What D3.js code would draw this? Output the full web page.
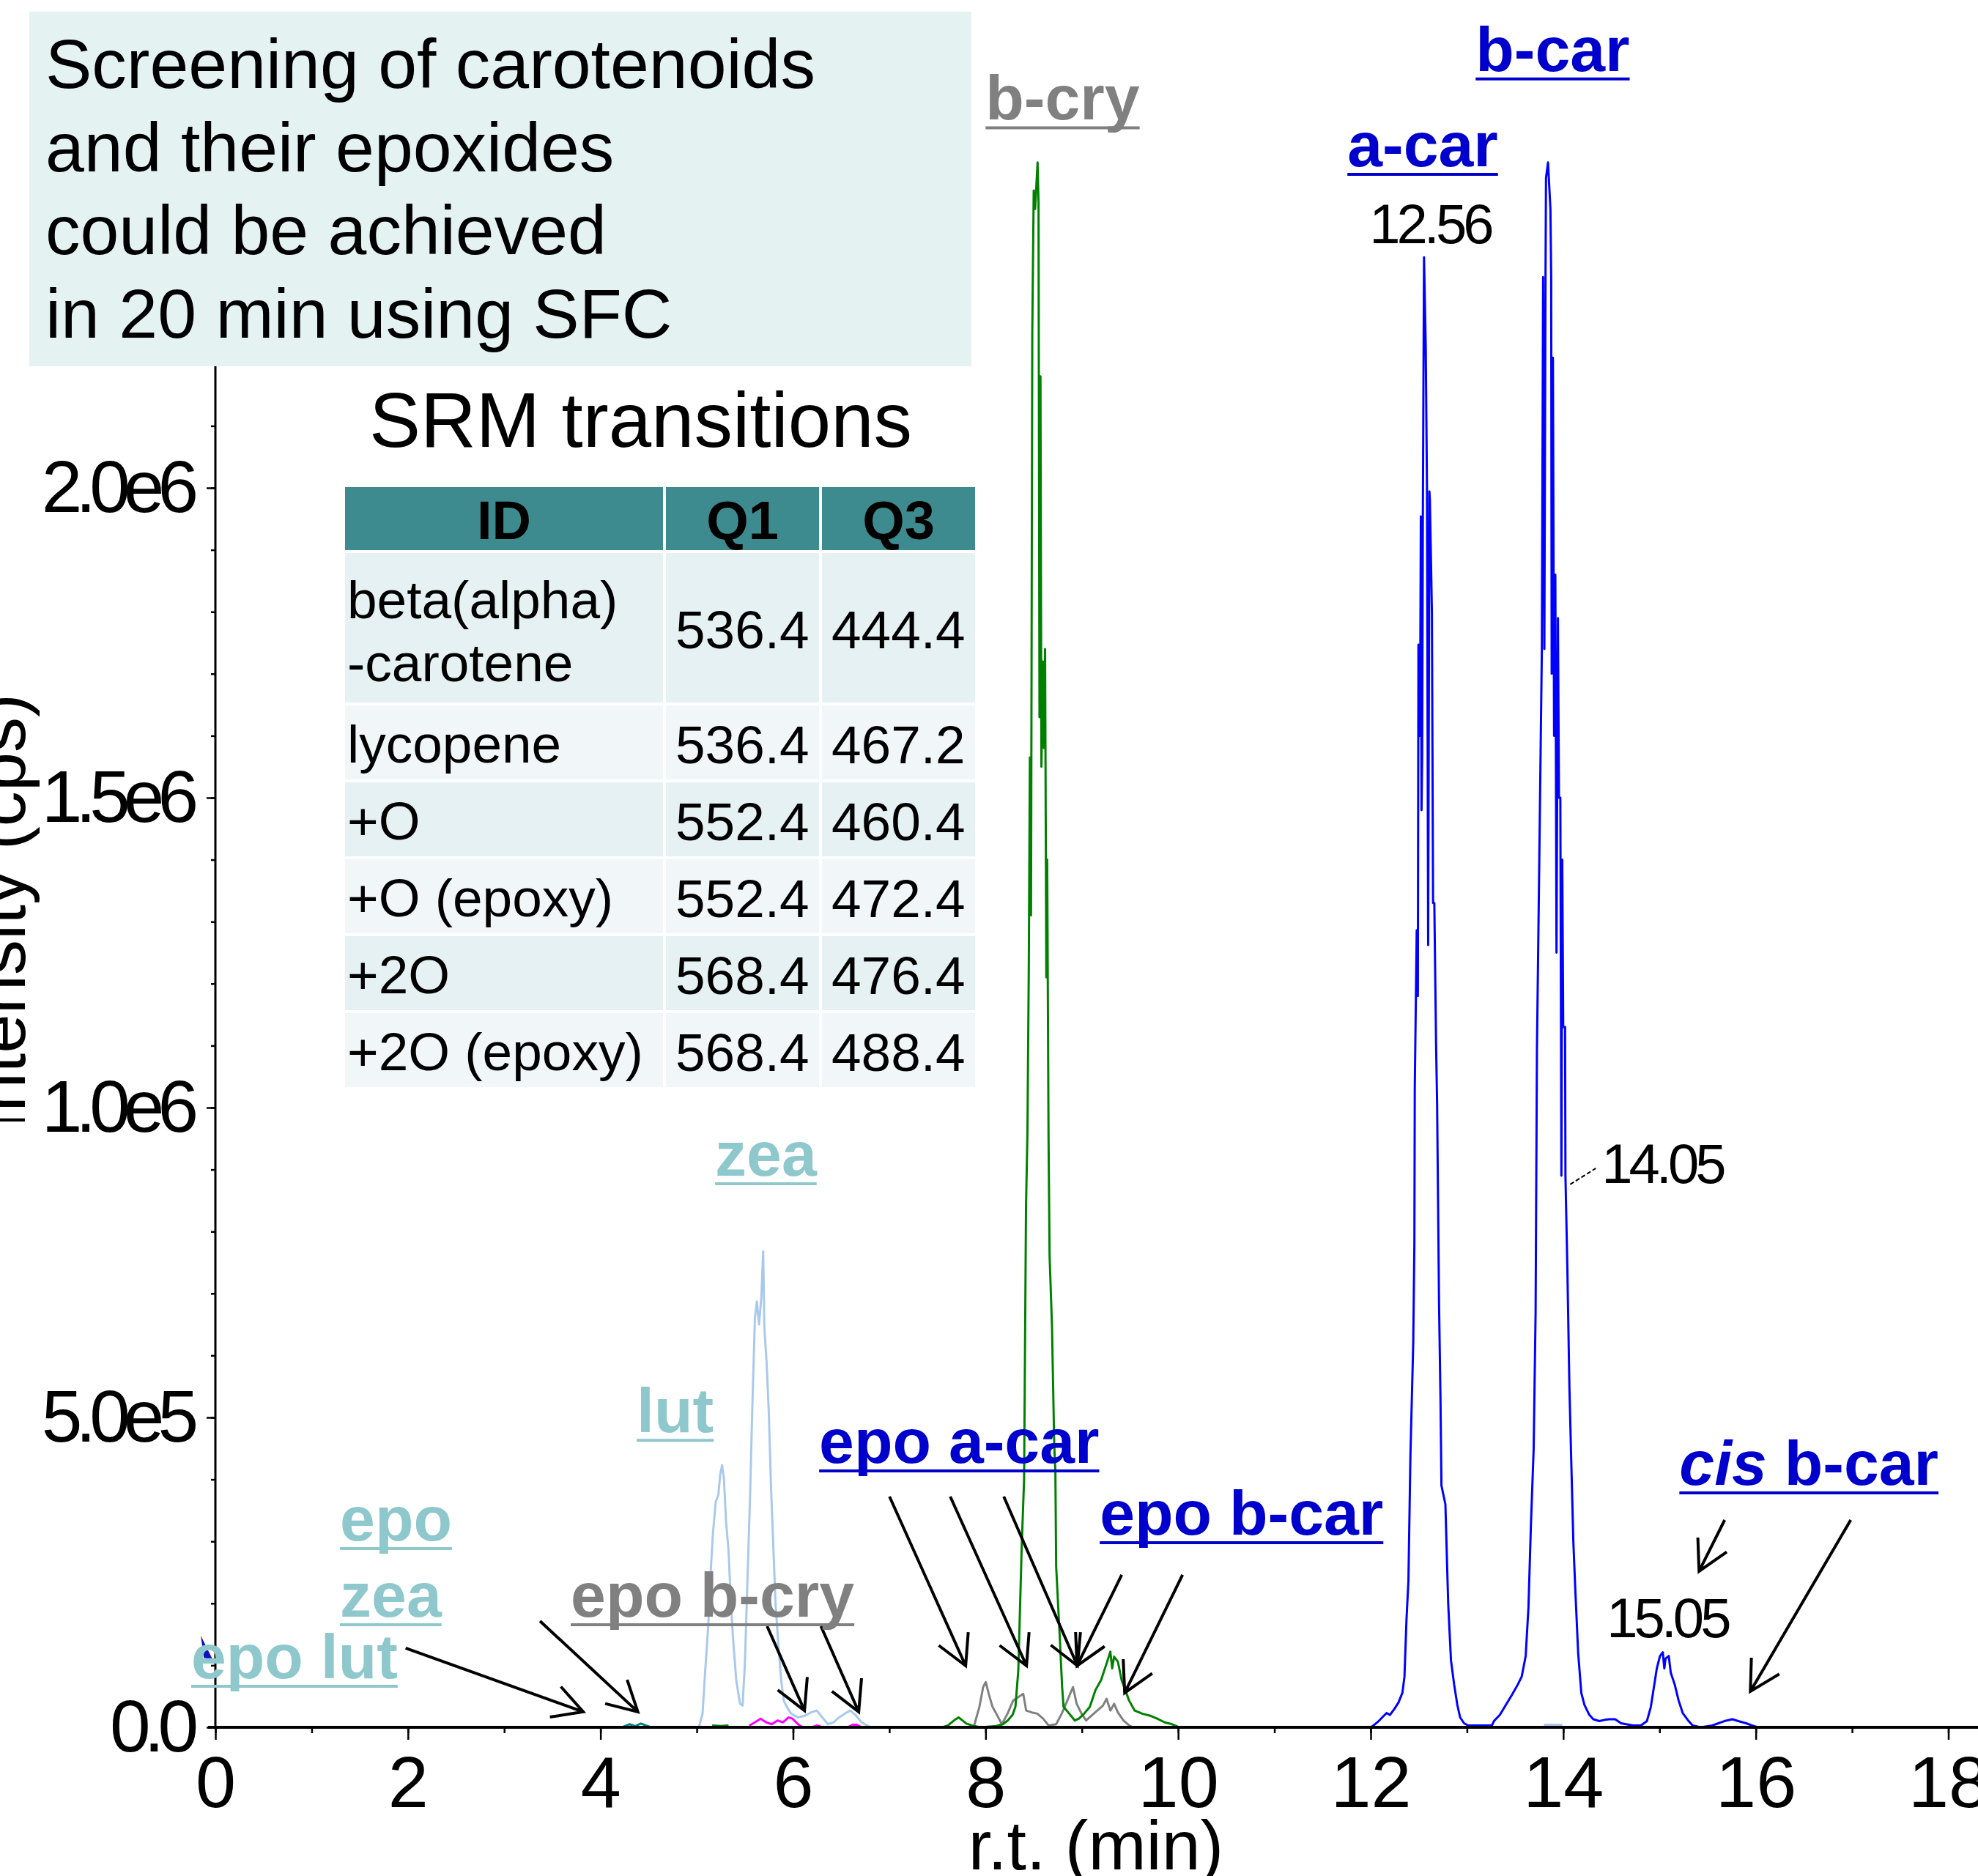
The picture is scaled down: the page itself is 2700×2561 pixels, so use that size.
<!DOCTYPE html>
<html>
<head>
<meta charset="utf-8">
<script src="https://cdn.jsdelivr.net/npm/d3@7"></script>
<style>
  html, body { margin: 0; padding: 0; background: #fff; }
  svg { display: block; font-family: "Liberation Sans", Arial, sans-serif; }
</style>
</head>
<body>
<div id="chart"></div>
<script>
// ---- data: [retention time (min), intensity (cps)] ----
// null intensity = gap in the trace
const tealTrace = [[4.24, 1e3], [4.3, 5e3], [4.36, 2e3], [4.42, 6e3], [4.47, 3e3], [4.51, 1e3]];

const lutTrace = [
  [5.022, 0], [5.06, 2.2e4], [5.088, 9.2e4], [5.119, 1.63e5], [5.146, 2.55e5], [5.169, 3.15e5],
  [5.197, 3.64e5], [5.224, 3.75e5], [5.243, 4.07e5], [5.263, 4.23e5], [5.282, 4.02e5],
  [5.305, 3.3e5], [5.329, 2.88e5], [5.352, 2.1e5], [5.375, 1.47e5], [5.41, 7.6e4],
  [5.449, 3.8e4], [5.476, 3.5e4], [5.5, 1.03e5], [5.527, 2.39e5], [5.554, 3.75e5],
  [5.577, 5.16e5], [5.604, 6.6e5], [5.624, 6.87e5], [5.647, 6.5e5], [5.671, 6.95e5],
  [5.69, 7.68e5], [5.702, 6.45e5], [5.725, 5.9e5], [5.748, 5.1e5], [5.772, 3.85e5],
  [5.795, 2.93e5], [5.818, 2.0e5], [5.849, 1.3e5], [5.877, 7.6e4], [5.904, 4.3e4],
  [5.935, 3.3e4], [5.981, 2.2e4], [6.051, 1.6e4], [6.129, 1.9e4], [6.187, 2.4e4],
  [6.246, 2.7e4], [6.304, 1.6e4], [6.362, 5e3], [6.421, 8e3], [6.479, 1.6e4], [6.537, 2.2e4],
  [6.595, 2.7e4], [6.654, 1.9e4], [6.712, 8e3], [6.77, 3e3], [6.809, 0],
  [6.809, null], [13.8, 4e3], [13.99, 4e3]
];

const magentaTrace = [
  [5.546, 3e3], [5.604, 8e3], [5.663, 1.4e4], [5.721, 8e3], [5.779, 5e3], [5.838, 1.1e4],
  [5.896, 8e3], [5.954, 1.6e4], [5.993, 1.4e4], [6.051, 5e3], [6.09, 1e3],
  [6.09, null], [6.21, 1e3], [6.25, 3e3], [6.29, 1e3],
  [6.29, null], [6.58, 1e3], [6.62, 4e3], [6.66, 4e3], [6.7, 1e3]
];

const grayTrace = [
  [7.878, 1e3], [7.936, 3.3e4], [7.975, 6.5e4], [8.002, 7.3e4], [8.033, 5.4e4], [8.072, 3.3e4],
  [8.111, 2.2e4], [8.169, 5e3], [8.228, 2.2e4], [8.286, 4.3e4], [8.344, 4.9e4], [8.391, 5.4e4],
  [8.422, 2.7e4], [8.48, 2.4e4], [8.538, 2.2e4], [8.597, 1.4e4], [8.655, 3e3], [8.733, 5e3],
  [8.791, 2.2e4], [8.849, 4.3e4], [8.908, 6.5e4], [8.946, 3.8e4], [8.997, 2.2e4], [9.044, 1.1e4],
  [9.102, 1.9e4], [9.16, 2.7e4], [9.219, 3.5e4], [9.257, 4.6e4], [9.296, 2.7e4], [9.335, 3.8e4],
  [9.374, 2.4e4], [9.432, 1.1e4], [9.491, 3e3], [9.53, 0]
];

const greenTrace = [
  [5.16, 3e3], [5.25, 2e3], [5.33, 3e3], [5.33, null],
  [7.55, 0], [7.61, 3e3], [7.68, 1.2e4], [7.72, 1.6e4], [7.76, 1.1e4], [7.8, 6e3], [7.88, 2e3],
  [7.95, 0], [8.11, 2e3], [8.18, 5e3], [8.23, 1.1e4], [8.28, 2e4], [8.31, 3.3e4], [8.34, 9.2e4],
  [8.375, 2.9e5], [8.4, 4.0e5], [8.42, 8.4e5], [8.435, 9.6e5], [8.449, 1.23e6], [8.46, 1.565e6],
  [8.472, 1.31e6], [8.485, 2.25e6], [8.5, 2.48e6], [8.515, 2.45e6], [8.54, 2.525e6],
  [8.55, 2.46e6], [8.56, 1.63e6], [8.57, 2.18e6], [8.58, 1.55e6], [8.595, 1.72e6],
  [8.606, 1.58e6], [8.618, 1.74e6], [8.631, 1.21e6], [8.64, 1.4e6], [8.654, 9.5e5],
  [8.665, 7.6e5], [8.674, 7.2e5], [8.69, 6.46e5], [8.713, 4.56e5], [8.725, 4.13e5],
  [8.733, 2.6e5], [8.772, 1.41e5], [8.795, 6.5e4], [8.81, 3.3e4], [8.869, 2.2e4],
  [8.927, 1.1e4], [8.97, 1.4e4], [9.024, 2.2e4], [9.083, 3.3e4], [9.141, 6e4], [9.199, 7.6e4],
  [9.257, 1.03e5], [9.296, 1.22e5], [9.315, 9.5e4], [9.335, 1.14e5], [9.374, 1.06e5],
  [9.413, 7.6e4], [9.452, 6e4], [9.491, 4.3e4], [9.549, 2.7e4], [9.627, 2.2e4], [9.704, 1.9e4],
  [9.782, 1.4e4], [9.86, 8e3], [9.937, 5e3], [9.996, 1e3], [10.02, 0]
];

const blueTrace = [
  [12.0, 0], [12.02, 2e3], [12.083, 1e4], [12.12, 1.6e4], [12.165, 2.3e4], [12.2, 2e4],
  [12.248, 3e4], [12.289, 4e4], [12.33, 5.6e4], [12.351, 8.2e4], [12.372, 1.74e5],
  [12.392, 2.36e5], [12.413, 4.4e5], [12.442, 6.2e5], [12.454, 7.8e5], [12.458, 1.03e6],
  [12.478, 1.286e6], [12.49, 1.18e6], [12.496, 1.747e6], [12.51, 1.6e6], [12.516, 1.747e6],
  [12.521, 1.954e6], [12.528, 1.48e6], [12.535, 1.57e6], [12.542, 1.954e6], [12.554, 2.372e6],
  [12.572, 2.226e6], [12.585, 1.994e6], [12.597, 1.262e6], [12.61, 1.994e6], [12.615, 1.98e6],
  [12.636, 1.8e6], [12.648, 1.33e6], [12.661, 1.33e6], [12.679, 1.105e6], [12.69, 1.006e6],
  [12.71, 6.86e5], [12.725, 5.3e5], [12.735, 3.9e5], [12.776, 3.6e5], [12.805, 2.0e5],
  [12.834, 1.08e5], [12.867, 6.9e4], [12.9, 3.6e4], [12.929, 1.6e4], [12.97, 6.5e3],
  [13.012, 3e3], [13.26, 3e3], [13.28, 1e4], [13.342, 2e4], [13.404, 3.6e4], [13.466, 5.2e4],
  [13.528, 6.9e4], [13.569, 8.2e4], [13.61, 1.15e5], [13.639, 1.94e5], [13.664, 3.25e5],
  [13.693, 4.5e5], [13.713, 6.7e5], [13.727, 1.095e6], [13.753, 1.42e6], [13.778, 1.74e6],
  [13.791, 2.34e6], [13.804, 1.74e6], [13.816, 2.34e6], [13.821, 2.5e6], [13.842, 2.525e6],
  [13.867, 2.45e6], [13.875, 2.34e6], [13.88, 1.7e6], [13.893, 2.21e6], [13.905, 1.6e6],
  [13.918, 1.86e6], [13.93, 1.25e6], [13.945, 1.79e6], [13.956, 1.5e6], [13.97, 1.5e6],
  [13.981, 8.9e5], [13.99, 1.4e6], [14.0, 1.13e6], [14.019, 1.13e6], [14.023, 8.9e5],
  [14.043, 7.4e5], [14.064, 5.5e5], [14.085, 4.2e5], [14.105, 3.0e5], [14.126, 2.2e5],
  [14.155, 1.2e5], [14.188, 5.5e4], [14.221, 3.6e4], [14.271, 2e4], [14.312, 1.3e4],
  [14.374, 1e4], [14.43, 1.2e4], [14.477, 1.3e4], [14.539, 1.3e4], [14.601, 6.5e3],
  [14.725, 3e3], [14.807, 3e3], [14.869, 1e4], [14.91, 3.3e4], [14.939, 6.2e4], [14.972, 9.5e4],
  [15.005, 1.15e5], [15.034, 1.21e5], [15.05, 9.5e4], [15.063, 1.11e5], [15.096, 1.15e5],
  [15.117, 8.8e4], [15.158, 6.9e4], [15.199, 4.3e4], [15.241, 2.3e4], [15.303, 1e4],
  [15.344, 3e3], [15.427, 0], [15.55, 3e3], [15.612, 6.5e3], [15.674, 1e4], [15.757, 1.3e4],
  [15.818, 1e4], [15.9, 6.5e3], [15.96, 3e3], [16.02, 0]
];

// axes
const xTicks = [0, 2, 4, 6, 8, 10, 12, 14, 16, 18];
const xTickLabels = ["0", "2", "4", "6", "8", "10", "12", "14", "16", "18"];
const yTicks = [0, 5e5, 1e6, 1.5e6, 2e6];
const yTickLabels = ["0.0", "5.0e5", "1.0e6", "1.5e6", "2.0e6"];

// SRM table
const srmHeader = ["ID", "Q1", "Q3"];
const srmIds = [["beta(alpha)", "-carotene"], ["lycopene"], ["+O"], ["+O (epoxy)"], ["+2O"], ["+2O (epoxy)"]];
const srmQ1 = ["536.4", "536.4", "552.4", "552.4", "568.4", "568.4"];
const srmQ3 = ["444.4", "467.2", "460.4", "472.4", "476.4", "488.4"];

const noteLines = ["Screening of carotenoids", "and their epoxides", "could be achieved", "in 20 min using SFC"];

// ---- layout ----
const width = 2700, height = 2561;
const col = {
  blue: "#0000ff", blueLabel: "#0000cc", green: "#008000", gray: "#808080",
  lut: "#a9c9ec", tealLabel: "#8ec8cc", magenta: "#ff00ff", teal: "#008080"
};

const x = d3.scaleLinear().domain([0, 18]).range([294, 2659.5]);
const y = d3.scaleLinear().domain([0, 2e6]).range([2358, 666]);

// peak labels, placed in data units
const peakLabels = [
  { text: "b-cry", t: 8.0, v: 2.594e6, fill: col.gray },
  { text: "b-car", t: 13.09, v: 2.673e6, fill: col.blueLabel },
  { text: "a-car", t: 11.758, v: 2.519e6, fill: col.blueLabel },
  { text: "zea", t: 5.19, v: 8.9e5, fill: col.tealLabel },
  { text: "lut", t: 4.376, v: 4.76e5, fill: col.tealLabel },
  { text: "epo a-car", t: 6.271, v: 4.267e5, fill: col.blueLabel },
  { text: "epo b-car", t: 9.186, v: 3.109e5, fill: col.blueLabel },
  { text: " b-car", italic: "cis", t: 15.206, v: 3.913e5, fill: col.blueLabel },
  { text: "epo", t: 1.294, v: 3.014e5, fill: col.tealLabel },
  { text: "zea", t: 1.294, v: 1.785e5, fill: col.tealLabel },
  { text: "epo b-cry", t: 3.691, v: 1.785e5, fill: col.gray },
  { text: "epo lut", t: -0.251, v: 7.92e4, fill: col.tealLabel }
];
const rtLabels = [
  { text: "12.56", t: 11.987, v: 2.395e6 },
  { text: "14.05", t: 14.399, v: 8.78e5 },
  { text: "15.05", t: 14.452, v: 1.454e5 }
];
const arrows = [
  [[1.976, 1.277e5], [3.821, 2.5e4]],
  [[3.372, 1.714e5], [4.388, 2.5e4]],
  [[5.731, 1.631e5], [6.119, 2.7e4]],
  [[6.29, 1.631e5], [6.682, 2.5e4]],
  [[7.002, 3.723e5], [7.793, 9.93e4]],
  [[7.633, 3.723e5], [8.425, 9.93e4]],
  [[8.189, 3.723e5], [8.954, 9.93e4]],
  [[9.414, 2.459e5], [8.95, 9.93e4]],
  [[10.046, 2.459e5], [9.445, 5.56e4]],
  [[15.677, 3.345e5], [15.411, 2.518e5]],
  [[16.986, 3.345e5], [15.944, 5.79e4]]
];

const svg = d3.select("#chart").append("svg")
  .attr("width", width)
  .attr("height", height);

svg.append("rect").attr("width", width).attr("height", height).attr("fill", "#fff");

// traces
const line = d3.line()
  .defined((d) => d[1] !== null)
  .x((d) => x(d[0]))
  .y((d) => y(d[1]));

const traces = [
  { data: tealTrace, color: col.teal },
  { data: lutTrace, color: col.lut },
  { data: magentaTrace, color: col.magenta },
  { data: grayTrace, color: col.gray },
  { data: greenTrace, color: col.green },
  { data: blueTrace, color: col.blue }
];

svg.append("g")
  .selectAll("path")
  .data(traces)
  .join("path")
  .attr("d", (d) => line(d.data))
  .attr("fill", "none")
  .attr("stroke", (d) => d.color)
  .attr("stroke-width", 3)
  .attr("stroke-linejoin", "round");

// small cursor mark next to the y axis
svg.append("path")
  .attr("d", `M${x(-0.152)},${y(1.48e5)} L${x(-0.03)},${y(1.1e5)} L${x(-0.12)},${y(1.12e5)} Z`)
  .attr("fill", "#1010c0");

// x axis
const xMinor = d3.axisBottom(x).tickValues(d3.range(0, 19, 1)).tickSize(8).tickFormat("");
const xMajor = d3.axisBottom(x)
  .tickValues(xTicks)
  .tickSize(17)
  .tickPadding(22)
  .tickFormat((d, i) => xTickLabels[i]);

svg.append("g").attr("transform", `translate(0,${y(0)})`).call(xMinor)
  .call((g) => g.select(".domain").remove())
  .call((g) => g.selectAll("line").attr("stroke", "#000").attr("stroke-width", 2.5));

svg.append("g").attr("transform", `translate(0,${y(0)})`).call(xMajor)
  .call((g) => g.select(".domain").remove())
  .call((g) => g.selectAll("line").attr("stroke", "#000").attr("stroke-width", 2.5))
  .call((g) => g.selectAll("text")
    .attr("fill", "#000")
    .attr("font-size", 99)
    .attr("font-family", "Liberation Sans, Arial, sans-serif"));

// y axis
const yMinor = d3.axisLeft(y).tickValues(d3.range(0, 2.15e6, 1e5)).tickSize(6).tickFormat("");
const yMajor = d3.axisLeft(y)
  .tickValues(yTicks)
  .tickSize(12)
  .tickPadding(20)
  .tickFormat((d, i) => yTickLabels[i]);

svg.append("g").attr("transform", `translate(${x(0)},0)`).call(yMinor)
  .call((g) => g.select(".domain").remove())
  .call((g) => g.selectAll("line").attr("stroke", "#000").attr("stroke-width", 2.5));

svg.append("g").attr("transform", `translate(${x(0)},0)`).call(yMajor)
  .call((g) => g.select(".domain").remove())
  .call((g) => g.selectAll("line").attr("stroke", "#000").attr("stroke-width", 2.5))
  .call((g) => g.selectAll("text")
    .attr("fill", "#000")
    .attr("font-size", 100)
    .attr("letter-spacing", -9)
    .attr("font-family", "Liberation Sans, Arial, sans-serif"));

// axis lines
svg.append("line")
  .attr("x1", x(0)).attr("x2", x(0))
  .attr("y1", 500).attr("y2", y(0))
  .attr("stroke", "#000").attr("stroke-width", 3);
svg.append("line")
  .attr("x1", x(0) - 10).attr("x2", width)
  .attr("y1", y(0)).attr("y2", y(0))
  .attr("stroke", "#000").attr("stroke-width", 4);

// axis titles
svg.append("text")
  .attr("x", 1496).attr("y", 2552)
  .attr("text-anchor", "middle")
  .attr("font-size", 95)
  .text("r.t. (min)");

svg.append("clipPath").attr("id", "ytitle-clip")
  .append("rect").attr("x", -200).attr("y", 0).attr("width", 400).attr("height", 1531);
svg.append("g").attr("clip-path", "url(#ytitle-clip)")
  .append("text")
  .attr("transform", "translate(34,947) rotate(-90)")
  .attr("text-anchor", "end")
  .attr("font-size", 96)
  .text("Intensity (cps)");

// arrows
const arrowG = svg.append("g").attr("stroke", "#000").attr("stroke-width", 4).attr("fill", "none");
arrows.forEach(([from, to]) => {
  const x1 = x(from[0]), y1 = y(from[1]), x2 = x(to[0]), y2 = y(to[1]);
  const a = Math.atan2(y2 - y1, x2 - x1);
  const len = 46, spread = 0.5;
  const h1 = [x2 - len * Math.cos(a - spread), y2 - len * Math.sin(a - spread)];
  const h2 = [x2 - len * Math.cos(a + spread), y2 - len * Math.sin(a + spread)];
  arrowG.append("path")
    .attr("d", `M${x1},${y1} L${x2},${y2} M${h1[0]},${h1[1]} L${x2},${y2} L${h2[0]},${h2[1]}`);
});

// leader line for 14.05
svg.append("line")
  .attr("x1", x(14.072)).attr("y1", y(8.76e5))
  .attr("x2", x(14.338)).attr("y2", y(9.02e5))
  .attr("stroke", "#000").attr("stroke-width", 2)
  .attr("stroke-dasharray", "6,3");

// underlined peak labels
const labelG = svg.append("g").attr("font-weight", "bold").attr("font-size", 86);
peakLabels.forEach((d) => {
  const lx = x(d.t), ly = y(d.v);
  const t = labelG.append("text").attr("x", lx).attr("y", ly).attr("fill", d.fill);
  if (d.italic) {
    t.append("tspan").attr("font-style", "italic").text(d.italic);
    t.append("tspan").text(d.text);
  } else {
    t.text(d.text);
  }
  const w = t.node().getComputedTextLength();
  labelG.append("line")
    .attr("x1", lx).attr("x2", lx + w)
    .attr("y1", ly + 11).attr("y2", ly + 11)
    .attr("stroke", d.fill).attr("stroke-width", 4);
});

// retention time labels
svg.append("g")
  .selectAll("text")
  .data(rtLabels)
  .join("text")
  .attr("x", (d) => x(d.t))
  .attr("y", (d) => y(d.v))
  .attr("font-size", 76)
  .attr("letter-spacing", -5)
  .text((d) => d.text);

// note box
svg.append("rect")
  .attr("x", 40).attr("y", 16).attr("width", 1286).attr("height", 484)
  .attr("fill", "#e4f2f2");
svg.append("g")
  .selectAll("text")
  .data(noteLines)
  .join("text")
  .attr("x", 62)
  .attr("y", (d, i) => 120 + i * 113.7)
  .attr("font-size", 95)
  .text((d) => d);

// SRM table
svg.append("text")
  .attr("x", 504).attr("y", 610)
  .attr("font-size", 105)
  .text("SRM transitions");

const colX = [471, 909, 1122];
const colW = [434, 209, 209];
const headTop = 665, headH = 86, gap = 4;
const rowH = srmIds.map((d) => (d.length > 1 ? 204 : 101));
const rowTop = [];
rowH.reduce((acc, h, i) => { rowTop[i] = acc; return acc + h + gap; }, headTop + headH + gap);

const table = svg.append("g");
srmHeader.forEach((h, j) => {
  table.append("rect")
    .attr("x", colX[j]).attr("y", headTop).attr("width", colW[j]).attr("height", headH)
    .attr("fill", "#3e8b8f");
  table.append("text")
    .attr("x", colX[j] + colW[j] / 2).attr("y", headTop + headH / 2 + 28)
    .attr("text-anchor", "middle")
    .attr("font-weight", "bold")
    .attr("font-size", 74)
    .text(h);
});

srmIds.forEach((ids, i) => {
  const fill = i % 2 === 0 ? "#e5f1f2" : "#f1f7f8";
  const mid = rowTop[i] + rowH[i] / 2;
  colX.forEach((cx, j) => {
    table.append("rect")
      .attr("x", cx).attr("y", rowTop[i]).attr("width", colW[j]).attr("height", rowH[i])
      .attr("fill", fill);
  });
  ids.forEach((s, k) => {
    table.append("text")
      .attr("x", colX[0] + 3)
      .attr("y", ids.length > 1 ? mid - 13 + k * 86 : mid + 27)
      .attr("font-size", 73)
      .text(s);
  });
  table.append("text").attr("x", colX[1] + 13).attr("y", mid + 28).attr("font-size", 73).text(srmQ1[i]);
  table.append("text").attr("x", colX[2] + 13).attr("y", mid + 28).attr("font-size", 73).text(srmQ3[i]);
});
</script>
</body>
</html>
